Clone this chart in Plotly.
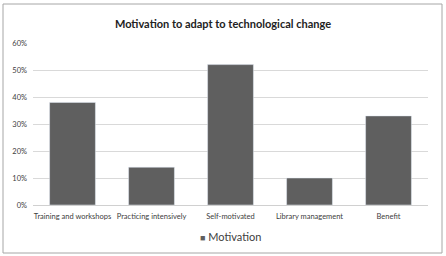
import plotly.graph_objects as go

categories = ["Training and workshops", "Practicing intensively", "Self-motivated", "Library management", "Benefit"]
values = [0.38, 0.14, 0.52, 0.10, 0.33]
series_name = "Motivation"
title = "Motivation to adapt to technological change"
bar_color = "#5f5f5f"

W, H = 446, 256
L, R, T, B = 33, 428, 43, 205
pw, ph = R - L, B - T

def px(x):
    return (x - L) / pw

def py(y):
    return (B - y) / ph

fig = go.Figure(go.Bar(x=categories, y=values, name=series_name, marker_color=bar_color,
                       showlegend=False))

fig.update_layout(
    width=W, height=H,
    margin=dict(l=L, r=W - R, t=T, b=H - B),
    paper_bgcolor="white", plot_bgcolor="white",
    bargap=0.42,
    font=dict(family="Lato, Liberation Sans", color="#404040", size=8),
    title=dict(text="<b>" + title + "</b>", x=0.5, xanchor="center", y=1 - 24 / H, yanchor="middle",
               font=dict(family="Lato, Liberation Sans", size=11, color="#222222")),
    xaxis=dict(showgrid=False, showline=True, linecolor="#d0d0d0", ticks="", tickangle=0,
               automargin=False, ticklabelstandoff=4, tickfont=dict(size=7.5, color="#404040")),
    yaxis=dict(range=[0, 0.6], dtick=0.1, tickformat=".0%", showgrid=True, gridcolor="#d9d9d9",
               zeroline=False, ticks="", automargin=False, ticklabelstandoff=5,
               tickfont=dict(size=7.5, color="#404040")),
    annotations=[dict(xref="paper", yref="paper", x=0.5, y=py(236), xanchor="center", yanchor="middle",
                      showarrow=False,
                      text="<span style='color:%s;font-size:9px'>■</span> %s" % (bar_color, series_name),
                      font=dict(family="Lato, Liberation Sans", size=11, color="#404040"))],
    shapes=[dict(type="rect", xref="paper", yref="paper",
                 x0=px(3), x1=px(442), y0=py(253), y1=py(4),
                 line=dict(color="#a6a6a6", width=1), fillcolor="rgba(0,0,0,0)")],
)

fig.write_html("out.html")
